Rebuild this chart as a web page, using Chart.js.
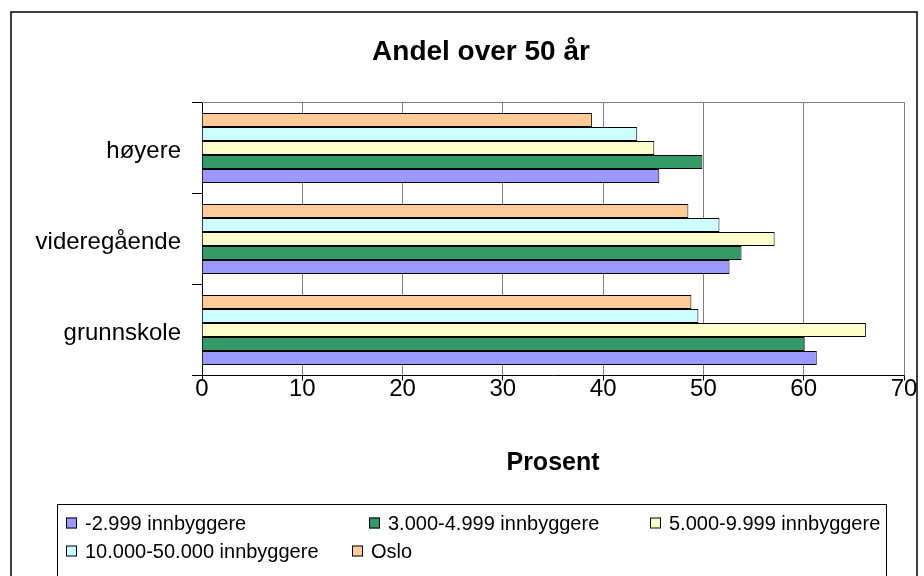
<!DOCTYPE html>
<html>
<head>
<meta charset="utf-8">
<script src="https://cdn.jsdelivr.net/npm/chart.js@4"></script>
<style>
  html, body { margin: 0; padding: 0; background: #fff; }
  canvas { display: block; }
</style>
</head>
<body>
<canvas id="chart" width="924" height="576"></canvas>
<script>
// Education level categories (top to bottom)
const categories = ['høyere', 'videregående', 'grunnskole'];

// Municipality size groups, in legend order
const seriesNames = ['-2.999 innbyggere', '3.000-4.999 innbyggere', '5.000-9.999 innbyggere', '10.000-50.000 innbyggere', 'Oslo'];

// Share aged over 50 (percent) per category
const under3000 = [45.6, 52.6, 61.3];
const from3000 = [49.9, 53.8, 60.1];
const from5000 = [45.1, 57.1, 66.2];
const from10000 = [43.4, 51.6, 49.5];
const oslo = [38.9, 48.5, 48.8];

const xTicks = [0, 10, 20, 30, 40, 50, 60, 70];

const chartTitle = 'Andel over 50 år';
const xTitle = 'Prosent';

const seriesValues = [under3000, from3000, from5000, from10000, oslo];
const seriesColors = ['#9999FF', '#339966', '#FFFFCC', '#CCFFFF', '#FFCC99'];

const FONT = "'Liberation Sans', Arial, sans-serif";
Chart.defaults.font.family = FONT;
Chart.defaults.color = '#000';

// Bars run top-to-bottom in reverse legend order (Oslo on top)
const datasets = seriesNames.map((name, i) => ({
  label: name,
  data: seriesValues[i],
  backgroundColor: seriesColors[i],
  borderColor: '#000',
  borderWidth: 1,
  borderSkipped: 'start',
  inflateAmount: 0,
  categoryPercentage: 70 / 91,
  barPercentage: 1.0
})).reverse();

// Outer chart frame, plot frame, title and the boxed legend
const framePlugin = {
  id: 'frame',
  beforeDatasetsDraw(chart) {
    const { ctx, chartArea: a } = chart;
    ctx.save();
    ctx.strokeStyle = '#808080';
    ctx.lineWidth = 1;
    ctx.beginPath();
    ctx.moveTo(a.left, Math.floor(a.top) + 0.5);
    ctx.lineTo(Math.round(a.right) + 0.5, Math.floor(a.top) + 0.5);
    ctx.lineTo(Math.round(a.right) + 0.5, a.bottom);
    ctx.stroke();
    ctx.restore();
  },
  afterDraw(chart) {
    const { ctx } = chart;
    ctx.save();
    // outer border
    ctx.strokeStyle = '#000';
    ctx.lineWidth = 1.5;
    ctx.strokeRect(11, 12, 906, 620);

    // title
    ctx.fillStyle = '#000';
    ctx.font = 'bold 28px ' + FONT;
    ctx.textAlign = 'center';
    ctx.textBaseline = 'middle';
    ctx.fillText(chartTitle, 481, 52);

    // legend box
    ctx.lineWidth = 1;
    ctx.strokeStyle = '#000';
    ctx.strokeRect(57.5, 504.5, 829, 120);

    const slots = [[66, 523], [369, 523], [650, 523], [66, 551], [352, 551]];
    ctx.font = '20px ' + FONT;
    ctx.textBaseline = 'middle';
    ctx.textAlign = 'left';
    seriesNames.forEach((name, i) => {
      const ds = chart.data.datasets.find(d => d.label === name);
      const [x, y] = slots[i];
      ctx.fillStyle = ds.backgroundColor;
      ctx.fillRect(x, y - 5.5, 11, 11);
      ctx.strokeStyle = '#000';
      ctx.lineWidth = 1;
      ctx.strokeRect(x + 0.5, y - 5, 10, 10);
      ctx.fillStyle = '#000';
      ctx.fillText(name, x + 19, y + 1);
    });
    ctx.restore();
  }
};

new Chart(document.getElementById('chart'), {
  type: 'bar',
  data: { labels: categories, datasets },
  plugins: [framePlugin],
  options: {
    indexAxis: 'y',
    responsive: false,
    animation: false,
    layout: { padding: { left: 12, right: 20, top: 102.5, bottom: 90.5 } },
    plugins: {
      legend: { display: false },
      tooltip: { enabled: false },
      title: { display: false }
    },
    scales: {
      x: {
        min: 0,
        max: 70,
        afterBuildTicks(scale) { scale.ticks = xTicks.map(v => ({ value: v })); },
        afterFit(scale) { scale.height = 110; },
        grid: { color: '#808080', tickColor: '#000', tickLength: 5, drawTicks: true },
        border: { color: '#000', width: 1 },
        ticks: { font: { size: 24, lineHeight: 1 }, color: '#000', padding: -3, maxRotation: 0 },
        title: {
          display: true,
          text: xTitle,
          font: { size: 25, weight: 'bold', lineHeight: 1.2 },
          color: '#000',
          padding: { top: 0, bottom: 7 }
        }
      },
      y: {
        afterFit(scale) { scale.width = 190; },
        grid: { offset: true, drawOnChartArea: false, color: '#000', tickLength: 10 },
        border: { color: '#000', width: 1 },
        ticks: { font: { size: 24 }, color: '#000', padding: 11, labelOffset: 3 }
      }
    }
  }
});
</script>
</body>
</html>
